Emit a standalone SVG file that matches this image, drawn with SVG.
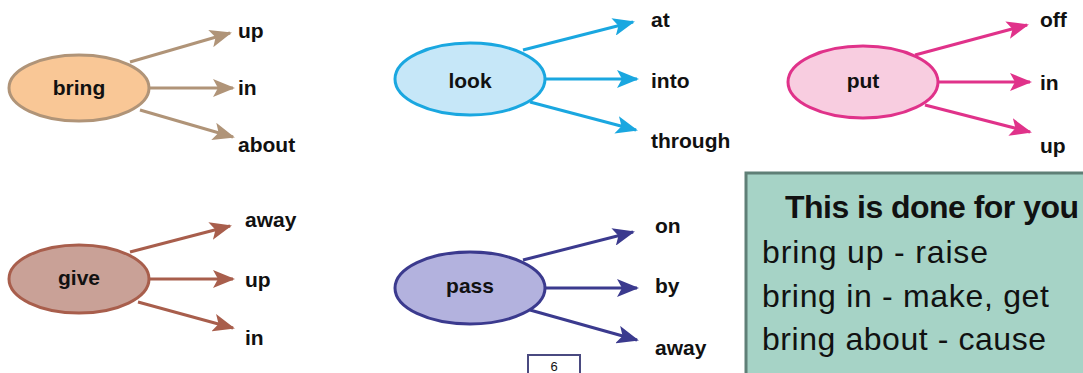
<svg xmlns="http://www.w3.org/2000/svg" width="1083" height="373" viewBox="0 0 1083 373">
<style>
.lbl{font-family:"Liberation Sans",Arial,sans-serif;font-weight:bold;font-size:21px;fill:#111}
.nl{font-family:"Liberation Sans",Arial,sans-serif;font-weight:bold;font-size:21px;fill:#111;text-anchor:middle}
.c{fill:none;stroke-width:3}
.box{font-family:"Liberation Sans",Arial,sans-serif;font-size:32px;fill:#111}
</style>
<defs>
<marker id="mBr" markerUnits="userSpaceOnUse" markerWidth="22" markerHeight="18" refX="20" refY="9" orient="auto"><path d="M0,0 L22,9 L0,18 L5,9 z" fill="#b09478"/></marker>
<marker id="mLk" markerUnits="userSpaceOnUse" markerWidth="22" markerHeight="18" refX="20" refY="9" orient="auto"><path d="M0,0 L22,9 L0,18 L5,9 z" fill="#1aa7e0"/></marker>
<marker id="mPt" markerUnits="userSpaceOnUse" markerWidth="22" markerHeight="18" refX="20" refY="9" orient="auto"><path d="M0,0 L22,9 L0,18 L5,9 z" fill="#e0328a"/></marker>
<marker id="mGv" markerUnits="userSpaceOnUse" markerWidth="22" markerHeight="18" refX="20" refY="9" orient="auto"><path d="M0,0 L22,9 L0,18 L5,9 z" fill="#a85e4c"/></marker>
<marker id="mPs" markerUnits="userSpaceOnUse" markerWidth="22" markerHeight="18" refX="20" refY="9" orient="auto"><path d="M0,0 L22,9 L0,18 L5,9 z" fill="#3b3a8e"/></marker>
</defs>
<rect width="1083" height="373" fill="#ffffff"/>

<g id="connectors">
<line class="c" stroke="#b09478" x1="130" y1="62" x2="230" y2="33" marker-end="url(#mBr)"/>
<line class="c" stroke="#b09478" x1="148" y1="88" x2="233" y2="88" marker-end="url(#mBr)"/>
<line class="c" stroke="#b09478" x1="140" y1="110" x2="233" y2="137" marker-end="url(#mBr)"/>
<line class="c" stroke="#1aa7e0" x1="523" y1="50" x2="633" y2="22" marker-end="url(#mLk)"/>
<line class="c" stroke="#1aa7e0" x1="545" y1="79" x2="637" y2="79" marker-end="url(#mLk)"/>
<line class="c" stroke="#1aa7e0" x1="530" y1="102" x2="636" y2="130" marker-end="url(#mLk)"/>
<line class="c" stroke="#e0328a" x1="915" y1="55" x2="1027" y2="25" marker-end="url(#mPt)"/>
<line class="c" stroke="#e0328a" x1="938" y1="82" x2="1030" y2="82" marker-end="url(#mPt)"/>
<line class="c" stroke="#e0328a" x1="925" y1="105" x2="1030" y2="132" marker-end="url(#mPt)"/>
<line class="c" stroke="#a85e4c" x1="130" y1="252" x2="230" y2="226" marker-end="url(#mGv)"/>
<line class="c" stroke="#a85e4c" x1="150" y1="279" x2="233" y2="279" marker-end="url(#mGv)"/>
<line class="c" stroke="#a85e4c" x1="138" y1="302" x2="233" y2="328" marker-end="url(#mGv)"/>
<line class="c" stroke="#3b3a8e" x1="523" y1="260" x2="633" y2="232" marker-end="url(#mPs)"/>
<line class="c" stroke="#3b3a8e" x1="545" y1="288" x2="637" y2="288" marker-end="url(#mPs)"/>
<line class="c" stroke="#3b3a8e" x1="530" y1="310" x2="637" y2="340" marker-end="url(#mPs)"/>
</g>

<g id="bring">
<ellipse cx="79" cy="88" rx="70" ry="33" fill="#f9c796" stroke="#b09478" stroke-width="3"/>
<text class="nl" x="79" y="95">bring</text>
</g>
<g id="bring-labels">
<text class="lbl" x="238" y="38">up</text>
<text class="lbl" x="238" y="95">in</text>
<text class="lbl" x="238" y="152">about</text>
</g>

<g id="look">
<ellipse cx="470" cy="79" rx="75" ry="36" fill="#c6e7f8" stroke="#1aa7e0" stroke-width="3"/>
<text class="nl" x="470" y="88">look</text>
</g>
<g id="look-labels">
<text class="lbl" x="651" y="27">at</text>
<text class="lbl" x="651" y="88">into</text>
<text class="lbl" x="651" y="148">through</text>
</g>

<g id="put">
<ellipse cx="863" cy="82" rx="75" ry="36" fill="#f8cde0" stroke="#e0328a" stroke-width="3"/>
<text class="nl" x="863" y="88">put</text>
</g>
<g id="put-labels">
<text class="lbl" x="1040" y="27">off</text>
<text class="lbl" x="1040" y="90">in</text>
<text class="lbl" x="1040" y="153">up</text>
</g>

<g id="give">
<ellipse cx="79" cy="279" rx="70" ry="34" fill="#c9a197" stroke="#a85e4c" stroke-width="3"/>
<text class="nl" x="79" y="285">give</text>
</g>
<g id="give-labels">
<text class="lbl" x="245" y="227">away</text>
<text class="lbl" x="245" y="287">up</text>
<text class="lbl" x="245" y="345">in</text>
</g>

<g id="pass">
<ellipse cx="470" cy="288" rx="75" ry="36" fill="#b3b2de" stroke="#3b3a8e" stroke-width="3"/>
<text class="nl" x="470" y="293">pass</text>
</g>
<g id="pass-labels">
<text class="lbl" x="655" y="233">on</text>
<text class="lbl" x="655" y="293">by</text>
<text class="lbl" x="655" y="355">away</text>
</g>

<g id="page-number">
<rect x="528" y="355" width="52" height="30" fill="#ffffff" stroke="#4a4a80" stroke-width="2"/>
<text x="554" y="371" font-family="Liberation Sans, Arial, sans-serif" font-size="13" fill="#111" text-anchor="middle">6</text>
</g>

<g id="info-box">
<rect x="746" y="173" width="345" height="210" fill="#a6d3c6" stroke="#5f7f76" stroke-width="3"/>
<text class="box" x="785" y="218" font-weight="bold" textLength="294">This is done for you</text>
<text class="box" x="762" y="263" textLength="226">bring up - raise</text>
<text class="box" x="762" y="307" textLength="287">bring in - make, get</text>
<text class="box" x="762" y="350" textLength="284">bring about - cause</text>
</g>
</svg>
